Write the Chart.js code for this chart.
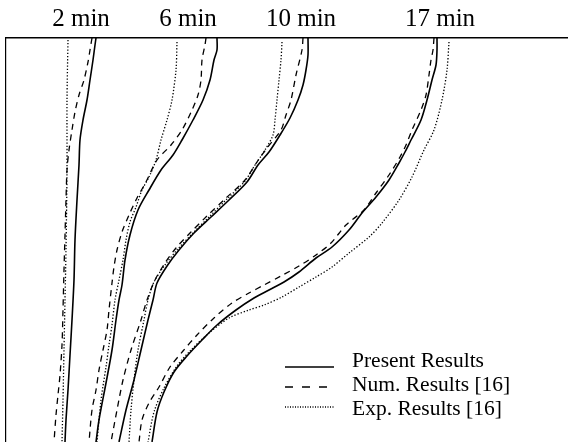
<!DOCTYPE html>
<html>
<head>
<meta charset="utf-8">
<script src="https://cdn.jsdelivr.net/npm/chart.js@4.4.1/dist/chart.umd.min.js"></script>
<style>
  body { margin: 0; background: #fff; }
  canvas { display: block; }
</style>
</head>
<body>
<canvas id="front-chart" width="568" height="442"></canvas>
<script>
// labels along the top edge and their x position on the axis
const timeLabels = ["2 min", "6 min", "10 min", "17 min"];
const labelPositions = [75, 182, 295, 434];
const seriesNames = ["Present Results", "Num. Results [16]", "Exp. Results [16]"];

// front profiles as [x, depth] pairs
const present2 = [[90,0],[89,7],[87,22],[84,42],[81,62],[77,82],[74,102],[73,127],[71,162],[69,202],[68,242],[66,282],[64,317],[62,352],[60,382],[59,404]];
const num2 = [[86,0],[84,12],[82,24],[78,42],[73,57],[69,74],[66,92],[63,112],[61,132],[60,162],[59,197],[58,232],[57,272],[56,307],[54,337],[52,357],[50,377],[48,404]];
const exp2 = [[62,2],[61,62],[61,132],[60,212],[59,262],[58,312],[57,362],[56,404]];

const present6 = [[211,0],[211,12],[208,22],[204,42],[197,62],[187,82],[176,102],[167,117],[155,132],[143,152],[132,172],[124,197],[119,222],[116,247],[113,262],[110,282],[106,312],[100,345],[93,382],[90,404]];
const num6 = [[200,0],[199,7],[196,22],[195,42],[192,57],[186,72],[176,92],[165,107],[151,122],[140,144],[131,160],[123,177],[116,194],[111,212],[108,229],[106,245],[103,272],[101,292],[97,312],[93,332],[90,352],[86,372],[83,404]];
const exp6 = [[171,4],[170,32],[166,62],[161,82],[155,102],[150,122],[143,139],[136,152],[130,169],[124,184],[120,202],[117,222],[113,242],[109,262],[106,287],[103,307],[100,329],[95,362],[91,404]];

const present10 = [[302,0],[302,17],[300,32],[297,47],[292,62],[284,80],[274,97],[263,114],[252,127],[241,144],[223,162],[205,179],[188,195],[173,212],[161,228],[151,245],[147,262],[142,282],[135,312],[128,342],[120,372],[113,404]];
const num10 = [[297,0],[296,12],[290,37],[285,62],[280,77],[275,92],[261,110],[251,124],[239,142],[220,160],[201,178],[185,194],[170,210],[159,225],[149,242],[141,262],[135,282],[125,312],[117,342],[111,372],[105,404]];
const exp10 = [[276,4],[275,22],[273,42],[271,62],[269,82],[267,97],[259,112],[249,127],[239,143],[221,161],[203,179],[187,195],[171,212],[159,227],[148,244],[142,262],[138,282],[132,312],[128,342],[125,372],[123,404]];

const present17 = [[431,0],[431,12],[430,27],[426,42],[421,62],[415,82],[405,102],[399,114],[393,125],[383,142],[370,159],[356,175],[343,192],[326,209],[310,220],[293,234],[278,244],[263,252],[248,260],[230,272],[211,287],[196,302],[181,318],[168,334],[158,354],[151,374],[146,404]];
const num17 = [[428,0],[427,12],[425,22],[423,37],[420,57],[415,72],[406,92],[400,107],[394,119],[383,137],[370,155],[358,172],[340,187],[325,205],[310,217],[293,228],[275,238],[258,247],[243,255],[226,265],[208,280],[191,297],[177,313],[164,329],[153,349],[143,365],[136,382],[133,404]];
const exp17 = [[443,4],[441,32],[436,62],[428,92],[418,112],[406,139],[393,162],[376,185],[363,199],[343,215],[326,229],[310,239],[293,249],[276,259],[258,267],[243,272],[223,280],[203,295],[185,312],[171,328],[158,350],[148,374],[142,404]];

const seriesStyles = [
    { borderWidth: 1.6, borderDash: [] },
    { borderWidth: 1.3, borderDash: [6, 5] },
    { borderWidth: 1.3, borderDash: [1.3, 1.9] },
];

const profiles = [
    [present2, num2, exp2],
    [present6, num6, exp6],
    [present10, num10, exp10],
    [present17, num17, exp17],
];

const datasets = [];
profiles.forEach((group, t) => {
    group.forEach((points, s) => {
        datasets.push({
            label: seriesNames[s] + " " + timeLabels[t],
            data: points.map((p) => ({ x: p[0], y: p[1] })),
            borderColor: "#000",
            borderWidth: seriesStyles[s].borderWidth,
            borderDash: seriesStyles[s].borderDash,
            pointRadius: 0,
            tension: 0.3,
            fill: false,
        });
    });
});

// legend drawn inside the plot, bottom right
const insideLegend = {
    id: "insideLegend",
    afterDraw(chart) {
        const ctx = chart.ctx;
        const lineY = [367, 387, 407];
        const textY = [367, 391, 415];
        const dashes = [[], [8, 9], [1, 1.5]];
        ctx.save();
        ctx.strokeStyle = "#000";
        ctx.fillStyle = "#000";
        ctx.font = "21.5px 'Liberation Serif', 'Times New Roman', serif";
        ctx.textBaseline = "alphabetic";
        seriesNames.forEach((name, i) => {
            ctx.beginPath();
            ctx.lineWidth = seriesStyles[i].borderWidth;
            ctx.setLineDash(dashes[i]);
            ctx.moveTo(285, lineY[i]);
            ctx.lineTo(334, lineY[i]);
            ctx.stroke();
            ctx.fillText(name, 352, textY[i]);
        });
        ctx.restore();
    },
};

new Chart(document.getElementById("front-chart"), {
    type: "line",
    data: { datasets: datasets },
    options: {
        responsive: false,
        animation: false,
        layout: { padding: { top: 0, left: 6, right: 0, bottom: 0 } },
        plugins: {
            legend: { display: false },
            tooltip: { enabled: false },
        },
        scales: {
            x: {
                type: "linear",
                position: "top",
                min: 0,
                max: 562,
                afterBuildTicks: (scale) => {
                    scale.ticks = labelPositions.map((v) => ({ value: v }));
                },
                ticks: {
                    color: "#000",
                    padding: 4,
                    maxRotation: 0,
                    autoSkip: false,
                    font: { family: "'Liberation Serif', 'Times New Roman', serif", size: 25 },
                    callback: (value, index) => timeLabels[index],
                },
                grid: { display: false, drawTicks: false },
                border: { display: true, color: "#000", width: 1.6 },
            },
            y: {
                type: "linear",
                min: 0,
                max: 404,
                reverse: true,
                ticks: { display: false },
                grid: { display: false, drawTicks: false },
                border: { display: true, color: "#000", width: 1.2 },
            },
        },
    },
    plugins: [insideLegend],
});
</script>
</body>
</html>
